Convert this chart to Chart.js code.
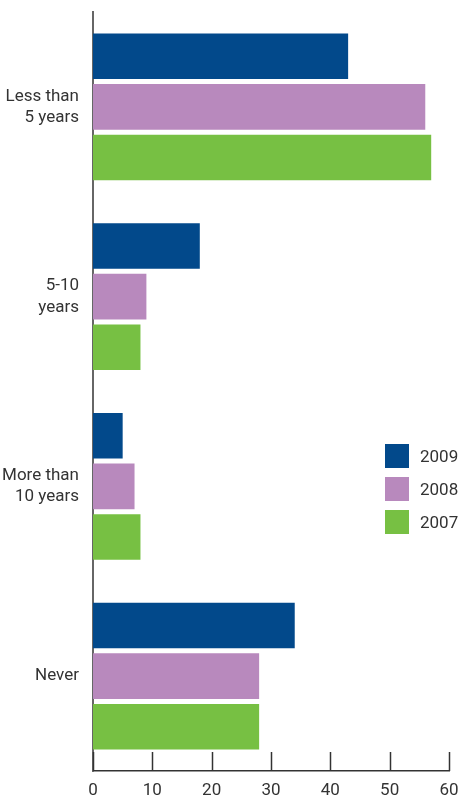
<!DOCTYPE html>
<html>
<head>
<meta charset="utf-8">
<script src="https://cdn.jsdelivr.net/npm/chart.js@4/dist/chart.umd.min.js"></script>
<style>
  html,body{margin:0;padding:0;background:#fff;}
  #wrap{position:relative;width:459px;height:799px;}
  #legend{position:absolute;left:385px;top:444px;font:17px Roboto,sans-serif;color:#333;}
  .lg-row{display:flex;align-items:center;height:24px;margin-bottom:9px;}
  .lg-box{width:24px;height:24px;margin-right:11px;}
</style>
</head>
<body>
<div id="wrap">
  <canvas id="c" width="459" height="799"></canvas>
  <div id="legend"></div>
</div>
<script>
const categories = [['Less than','5 years'], ['5-10','years'], ['More than','10 years'], ['Never']];
const seriesNames = ['2009', '2008', '2007'];
const values2009 = [43, 18, 5, 34];
const values2008 = [56, 9, 7, 28];
const values2007 = [57, 8, 8, 28];
const xTicks = [0, 10, 20, 30, 40, 50, 60];
const COLORS = ['#02498b', '#b889bd', '#77c043'];
const FONT = 'Roboto, sans-serif';

const series = [values2009, values2008, values2007];

// tick marks drawn upward from the x axis line
const innerTicks = {
  id: 'innerTicks',
  afterDraw(chart){
    const x = chart.scales.x, ctx = chart.ctx, b = chart.chartArea.bottom;
    ctx.save();
    ctx.strokeStyle = '#333'; ctx.lineWidth = 1.5;
    xTicks.forEach(v=>{
      const px = Math.round(x.getPixelForValue(v)) + 0.5;
      ctx.beginPath(); ctx.moveTo(px, b - 19); ctx.lineTo(px, b); ctx.stroke();
    });
    ctx.restore();
  }
};

new Chart(document.getElementById('c').getContext('2d'), {
  type: 'bar',
  data: {
    labels: categories,
    datasets: series.map((d,i)=>({
      label: seriesNames[i], data: d, backgroundColor: COLORS[i],
      borderWidth: 0, categoryPercentage: 0.8, barPercentage: 0.9
    }))
  },
  options: {
    indexAxis: 'y',
    responsive: false,
    animation: false,
    layout: { padding: { top: 12, right: 10, left: 0, bottom: 0 } },
    plugins: { legend: { display: false }, tooltip: { enabled: false } },
    scales: {
      x: {
        min: 0, max: 60,
        afterBuildTicks: s => { s.ticks = xTicks.map(v=>({value:v})); },
        afterFit: s => { s.height = 28; s.paddingRight = 0; s.paddingLeft = 0; },
        grid: { display: false },
        border: { display: true, color: '#333', width: 1.5 },
        ticks: { padding: 2, color: '#333', font: { family: FONT, size: 17 } }
      },
      y: {
        afterFit: s => { s.width = 93; s.paddingTop = 0; s.paddingBottom = 0; },
        grid: { display: false },
        border: { display: true, color: '#666', width: 2 },
        ticks: { padding: 6, color: '#333', font: { family: FONT, size: 17, lineHeight: 1.25 } }
      }
    }
  },
  plugins: [innerTicks]
});

document.getElementById('legend').innerHTML = seriesNames.map((n,i)=>
  `<div class="lg-row"><span class="lg-box" style="background:${COLORS[i]}"></span><span>${n}</span></div>`
).join('');
</script>
</body>
</html>
